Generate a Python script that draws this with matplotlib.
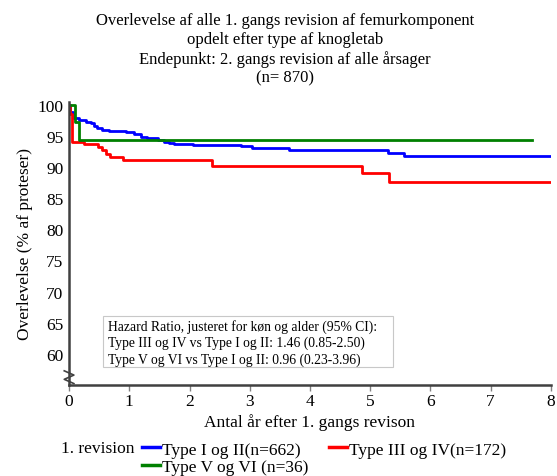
import matplotlib
matplotlib.use('Agg')
import matplotlib.pyplot as plt
from matplotlib.lines import Line2D
from matplotlib.patches import Rectangle

plt.rcParams['font.family'] = ['Liberation Serif', 'DejaVu Serif']

# Kaplan-Meier steps (years, survival %)
blue_t = [0, 0.01, 0.07, 0.17, 0.28, 0.36, 0.41, 0.47, 0.55, 0.66, 0.94, 1.08, 1.19,
          1.30, 1.47, 1.57, 1.66, 1.74, 2.05, 2.85, 3.04, 3.65, 5.29, 5.56, 8.0]
blue_s = [100, 98.8, 97.8, 97.6, 97.3, 97.0, 96.6, 96.3, 96.0, 95.8, 95.6, 95.3, 94.9,
          94.6, 94.3, 94.1, 93.9, 93.7, 93.6, 93.3, 93.1, 92.75, 92.2, 91.8, 91.8]

red_t = [0, 0.02, 0.05, 0.25, 0.48, 0.55, 0.62, 0.68, 0.90, 2.38, 4.87, 5.32, 8.0]
red_s = [100, 98.5, 94.1, 93.7, 93.2, 92.7, 92.1, 91.6, 91.1, 90.2, 89.1, 87.6, 87.6]

green_t = [0, 0.10, 0.17, 7.68]
green_s = [100, 97.2, 94.4, 94.4]

labels = ['Type I og II(n=662)', 'Type III og IV(n=172)', 'Type V og VI (n=36)']
colors = ['#0000ff', '#ff0000', '#008000']

title = ('Overlevelse af alle 1. gangs revision af femurkomponent\n'
         'opdelt efter type af knogletab\n'
         'Endepunkt: 2. gangs revision af alle årsager\n'
         '(n= 870)')
hr_text = ('Hazard Ratio, justeret for køn og alder (95% CI):\n'
           'Type III og IV vs Type I og II: 1.46 (0.85-2.50)\n'
           'Type V og VI vs Type I og II: 0.96 (0.23-3.96)')

fs = 12.5
fig = plt.figure(figsize=(5.57, 4.77), dpi=100)
ax = fig.add_axes([0.124, 0.1908, 0.865, 0.594])

series = [(blue_t, blue_s), (red_t, red_s), (green_t, green_s)]
for (t, s), c in zip(series, colors):
    ax.plot(t, s, drawstyle='steps-post', color=c, linewidth=2.0)

ax.set_xlim(0, 8)
ax.set_ylim(55, 100.5)
ax.set_xticks(range(0, 9))
ax.set_yticks(range(60, 101, 5))
ax.tick_params(axis='x', length=4, width=1, color='#808080', labelsize=fs, pad=1.5)
ax.tick_params(axis='y', length=0, labelsize=fs, pad=4)

for side in ['top', 'right']:
    ax.spines[side].set_visible(False)
for side in ['left', 'bottom']:
    ax.spines[side].set_color('#404040')
    ax.spines[side].set_linewidth(1.8)

# axis break mark at the bottom of the y axis
ax.plot([-0.01, 0.01, -0.01, 0.01], [0.05, 0.035, 0.02, 0.005],
        transform=ax.transAxes, color='#404040', linewidth=1.2, clip_on=False)

ax.set_xlabel('Antal år efter 1. gangs revison', fontsize=fs, labelpad=3)
ax.set_ylabel('Overlevelse (% af proteser)', fontsize=fs, labelpad=3)

# hazard ratio box
ax.add_patch(Rectangle((0.0712, 0.0625), 0.6018, 0.182, transform=ax.transAxes,
                       facecolor='white', edgecolor='#c8c8c8', linewidth=0.8, zorder=3))
ax.text(0.0815, 0.1507, hr_text, transform=ax.transAxes, fontsize=9.8,
        va='center', ha='left', linespacing=1.29, zorder=4)

fig.text(0.512, 0.972, title, ha='center', va='top', fontsize=12, linespacing=1.23)

handles = [Line2D([], [], color=c, linewidth=2.5) for c in colors]
order = [0, 2, 1]
fig.legend([handles[i] for i in order], [labels[i] for i in order],
           loc='upper left', bbox_to_anchor=(0.255, 0.0725), ncol=2,
           frameon=False, fontsize=fs, handlelength=1.05, handletextpad=0.12,
           columnspacing=1.15, labelspacing=0.1, borderpad=0, borderaxespad=0)
fig.text(0.1095, 0.0585, '1. revision', fontsize=fs, va='center', ha='left')

fig.savefig('out.png', dpi=100)
